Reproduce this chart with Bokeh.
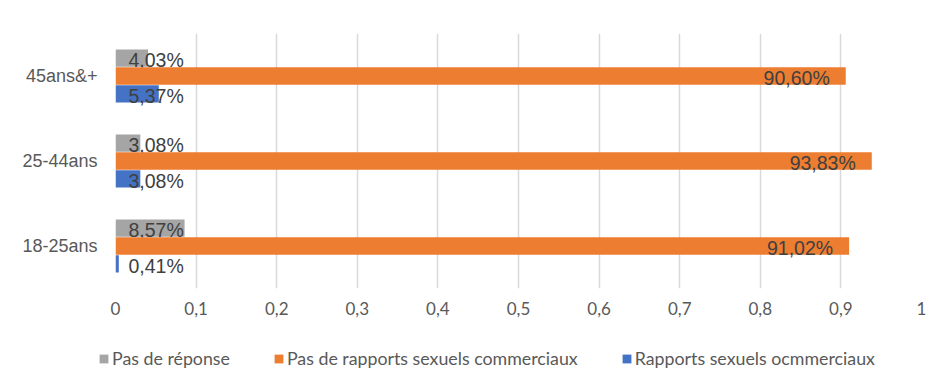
from bokeh.plotting import figure
from bokeh.layouts import column
from bokeh.models import ColumnDataSource, FactorRange, FixedTicker, Legend, LegendItem, Range1d
from bokeh.transform import dodge
from bokeh.core.properties import value
from bokeh.embed import file_html
from bokeh.resources import INLINE

# ---- data ----
categories = ["18-25ans", "25-44ans", "45ans&+"]
pas_de_reponse = [0.0857, 0.0308, 0.0403]
pas_de_rapports = [0.9102, 0.9383, 0.9060]
rapports = [0.0041, 0.0308, 0.0537]
series_names = ["Pas de réponse", "Pas de rapports sexuels commerciaux", "Rapports sexuels ocmmerciaux"]
x_ticks = [0, 0.1, 0.2, 0.3, 0.4, 0.5, 0.6, 0.7, 0.8, 0.9, 1]
x_tick_labels = ["0", "0,1", "0,2", "0,3", "0,4", "0,5", "0,6", "0,7", "0,8", "0,9", "1"]

colors = ["#a5a5a5", "#ed7d31", "#4472c4"]
offsets = [0.21, 0.0, -0.21]
series = [pas_de_reponse, pas_de_rapports, rapports]

CAL = "Lato, 'Open Sans', sans-serif"
SANS = "'Liberation Sans', Arial, sans-serif"

p = figure(width=926, height=340, x_range=Range1d(0, 1), y_range=FactorRange(*categories),
           output_backend="svg", toolbar_location=None,
           min_border_left=115, min_border_top=33, min_border_right=5, min_border_bottom=52)
p.frame_align = False
p.outline_line_color = None
p.background_fill_color = "white"
p.border_fill_color = "white"

def pct(v):
    return f"{v*100:.2f}%".replace(".", ",")

for name, vals, col, off in zip(series_names, series, colors, offsets):
    src = ColumnDataSource(dict(cat=categories, val=vals))
    p.hbar(y=dodge("cat", off, range=p.y_range), right="val", left=0, height=0.205,
           source=src, fill_color=col, line_color=None)
    small = [(c, v) for c, v in zip(categories, vals) if v < 0.15]
    large = [(c, v) for c, v in zip(categories, vals) if v >= 0.15]
    if small:
        s_src = ColumnDataSource(dict(cat=[c for c, _ in small], x=[0.0 for _ in small],
                                      lab=[pct(v) for _, v in small]))
        p.text(x="x", y=dodge("cat", off, range=p.y_range), text="lab", source=s_src,
               text_align="left", text_baseline="middle", x_offset=13, y_offset=2,
               text_font=value(SANS), text_font_size="19.5px", text_color="#404040")
    if large:
        l_src = ColumnDataSource(dict(cat=[c for c, _ in large], x=[v for _, v in large],
                                      lab=[pct(v) for _, v in large]))
        p.text(x="x", y=dodge("cat", off, range=p.y_range), text="lab", source=l_src,
               text_align="right", text_baseline="middle", x_offset=-16, y_offset=2,
               text_font=value(SANS), text_font_size="19.5px", text_color="#404040")

# axes
p.xaxis.ticker = FixedTicker(ticks=x_ticks)
p.xaxis.major_label_overrides = {t: l for t, l in zip(x_ticks, x_tick_labels)}
p.xaxis.axis_line_color = None
p.xaxis.major_tick_line_color = None
p.xaxis.major_tick_out = 0
p.xaxis.major_tick_in = 0
p.xaxis.minor_tick_line_color = None
p.xaxis.major_label_standoff = 13
p.xaxis.major_label_text_font = CAL
p.xaxis.major_label_text_font_size = "17px"
p.xaxis.major_label_text_color = "#595959"

p.yaxis.axis_line_color = None
p.yaxis.major_tick_line_color = None
p.yaxis.major_tick_out = 0
p.yaxis.major_tick_in = 0
p.yaxis.minor_tick_line_color = None
p.yaxis.major_label_standoff = 18
p.yaxis.major_label_text_font = SANS
p.yaxis.major_label_text_font_size = "18px"
p.yaxis.major_label_text_color = "#595959"

p.xgrid.grid_line_color = "#d9d9d9"
p.xgrid.grid_line_width = 1.5
p.ygrid.grid_line_color = None

# legend strip (separate small figure so the legend can sit left of the plot area)
lg = figure(width=926, height=32, x_range=Range1d(0, 1), y_range=Range1d(0, 1),
            x_axis_type=None, y_axis_type=None, output_backend="svg", toolbar_location=None,
            min_border=0)
lg.frame_align = False
lg.outline_line_color = None
lg.grid.visible = False
items = []
for name, col in zip(series_names, colors):
    # zero-length bar outside the visible range: only its legend swatch is shown
    r = lg.hbar(y=[5], right=[0], left=[0], height=0.5, fill_color=col, line_color=None)
    items.append(LegendItem(label=name, renderers=[r]))
legend = Legend(items=items, orientation="horizontal", location=(98, 3), padding=0, margin=0,
                border_line_color=None, background_fill_alpha=0,
                glyph_width=11, glyph_height=11, label_standoff=3, spacing=43,
                label_text_font=CAL, label_text_font_size="17.8px", label_text_color="#595959",
                label_height=20)
lg.add_layout(legend, "center")

layout = column(p, lg, spacing=0)
open("out.html", "w").write(file_html(layout, INLINE))
